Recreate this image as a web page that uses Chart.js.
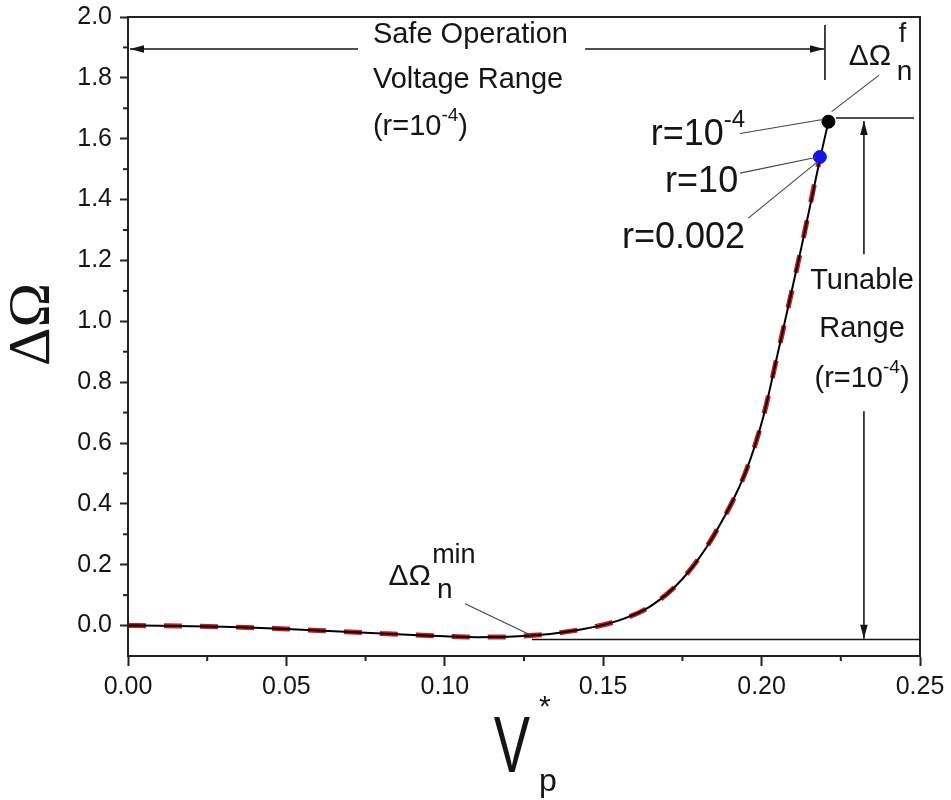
<!DOCTYPE html>
<html><head><meta charset="utf-8">
<script src="https://cdn.jsdelivr.net/npm/chart.js@4.4.1/dist/chart.umd.min.js"></script>
<style>html,body{margin:0;padding:0;background:#fff}#wrap{width:951px;height:800px;position:relative}</style>
</head><body><div id="wrap"><canvas id="c"></canvas></div>
<script>
// ---- data ----
const vpR002 = [0,0.01,0.02,0.03,0.04,0.05,0.06,0.07,0.08,0.09,0.10,0.11,0.12,0.127,0.135,0.145,0.155,0.165,0.175,0.185,0.195,0.2005,0.205,0.2125,0.2184];
const dOmegaR002 = [0,-0.0005,-0.002,-0.004,-0.007,-0.011,-0.016,-0.021,-0.026,-0.031,-0.035,-0.038,-0.037,-0.033,-0.025,-0.009,0.017,0.064,0.153,0.298,0.506,0.685,0.890,1.240,1.540];
const vpR4 = [0,0.01,0.02,0.03,0.04,0.05,0.06,0.07,0.08,0.09,0.10,0.11,0.12,0.127,0.135,0.145,0.155,0.165,0.175,0.185,0.195,0.2005,0.205,0.2125,0.2184,0.2211];
const dOmegaR4 = [0,-0.0005,-0.002,-0.004,-0.007,-0.011,-0.016,-0.021,-0.026,-0.031,-0.035,-0.038,-0.037,-0.033,-0.025,-0.009,0.017,0.064,0.153,0.298,0.506,0.685,0.890,1.240,1.532,1.656];
const endPointR4 = [0.2211, 1.656];
const endPointR10 = [0.2184, 1.540];
const xTicks = [0,0.05,0.10,0.15,0.20,0.25];
const xMinor = [0.025,0.075,0.125,0.175,0.225];
const yTicks = [0,0.2,0.4,0.6,0.8,1.0,1.2,1.4,1.6,1.8,2.0];
const yMinor = [0.1,0.3,0.5,0.7,0.9,1.1,1.3,1.5,1.7,1.9];

const FF = "'Liberation Sans', Arial, Helvetica, sans-serif";
const INK = '#151515';

// annotation anchors in data units
const ann = {
  safe: {y:1.895, x0:0, gapL:0.0726, gapR:0.1443, x1:0.2197, barX:0.2200, barY0:1.974, barY1:1.793,
         tx:0.0773, b1:1.914, b2:1.766, b3:1.612},
  tun: {x:0.2323, upTip:1.658, upTail:1.220, dnTail:0.704, dnTip:-0.043,
        botY:-0.046, botX0:0.1275, botX1:0.25, topY:1.668, topX0:0.2235, topX1:0.2481,
        tx:0.2317, b1:1.105, b2:0.947, b3:0.783},
  r4:{x:0.1948,y:1.579, l:[0.1932,1.617,0.2193,1.663]},
  r10:{x:0.1926,y:1.424, l:[0.1932,1.487,0.2174,1.539]},
  r002:{x:0.1948,y:1.240, l:[0.1958,1.339,0.2176,1.524]},
  f:{x:0.2275,y:1.842, sx:0.2427, supY:1.918, subY:1.793, l:[0.2221,1.689,0.2371,1.809]},
  mn:{x:0.0822,y:0.132, supX:0.0960, supY:0.204, subX:0.0975, subY:0.089, l:[0.1064,0.072,0.1274,-0.033]}
};

function rich(ctx, parts, x, y, align){
  let w = 0;
  parts.forEach(p=>{ctx.font = p[1]+'px '+FF; w += ctx.measureText(p[0]).width;});
  let cx = align==='right' ? x-w : (align==='center' ? x-w/2 : x);
  parts.forEach(p=>{ctx.font = p[1]+'px '+FF; ctx.textAlign='left'; ctx.fillText(p[0], cx, y+(p[2]||0)); cx += ctx.measureText(p[0]).width;});
}
function seg(ctx,x1,y1,x2,y2,w,c){ctx.save();ctx.strokeStyle=c;ctx.lineWidth=w;ctx.beginPath();ctx.moveTo(x1,y1);ctx.lineTo(x2,y2);ctx.stroke();ctx.restore();}
function head(ctx,tx,ty,dx,dy){
  const L=14,H=3.8; const px=-dy, py=dx;
  ctx.save();ctx.fillStyle=INK;ctx.beginPath();
  ctx.moveTo(tx,ty);
  ctx.lineTo(tx-dx*L+px*H, ty-dy*L+py*H);
  ctx.lineTo(tx-dx*L-px*H, ty-dy*L-py*H);
  ctx.closePath();ctx.fill();ctx.restore();
}

const annotPlugin = {
  id:'annot',
  afterDraw(chart){
    const ctx = chart.ctx, xs = chart.scales.x, ys = chart.scales.y, ca = chart.chartArea;
    const X = v=>xs.getPixelForValue(v), Y = v=>ys.getPixelForValue(v);
    ctx.save();
    ctx.strokeStyle = '#222'; ctx.lineWidth = 2;
    ctx.strokeRect(ca.left, ca.top, ca.right-ca.left, ca.bottom-ca.top);
    xMinor.forEach(v=>seg(ctx,X(v),ca.bottom,X(v),ca.bottom+5,2,'#222'));
    yMinor.forEach(v=>seg(ctx,ca.left,Y(v),ca.left-5,Y(v),2,'#222'));

    ctx.fillStyle = INK; ctx.textBaseline='alphabetic';
    const s = ann.safe;
    seg(ctx,X(s.x0)+2,Y(s.y),X(s.gapL),Y(s.y),1.6,INK);
    seg(ctx,X(s.gapR),Y(s.y),X(s.x1),Y(s.y),1.6,INK);
    head(ctx,X(s.x0)+2,Y(s.y),-1,0);
    head(ctx,X(s.x1),Y(s.y),1,0);
    seg(ctx,X(s.barX),Y(s.barY0),X(s.barX),Y(s.barY1),1.6,INK);
    rich(ctx,[['Safe Operation',29]],X(s.tx),Y(s.b1),'left');
    rich(ctx,[['Voltage Range',29]],X(s.tx),Y(s.b2),'left');
    rich(ctx,[['(r=10',29],['-4',19,-14],[')',29]],X(s.tx),Y(s.b3),'left');

    const t = ann.tun;
    seg(ctx,X(t.x),Y(t.upTip),X(t.x),Y(t.upTail),1.6,INK);
    head(ctx,X(t.x),Y(t.upTip),0,-1);
    seg(ctx,X(t.x),Y(t.dnTail),X(t.x),Y(t.dnTip),1.6,INK);
    head(ctx,X(t.x),Y(t.dnTip),0,1);
    seg(ctx,X(t.botX0),Y(t.botY),X(t.botX1),Y(t.botY),1.6,INK);
    seg(ctx,X(t.topX0),Y(t.topY),X(t.topX1),Y(t.topY),1.6,INK);
    rich(ctx,[['Tunable',29]],X(t.tx),Y(t.b1),'center');
    rich(ctx,[['Range',29]],X(t.tx),Y(t.b2),'center');
    rich(ctx,[['(r=10',29],['-4',19,-14],[')',29]],X(t.tx),Y(t.b3),'center');

    const lead = (l)=>seg(ctx,X(l[0]),Y(l[1]),X(l[2]),Y(l[3]),1.1,'#444');
    rich(ctx,[['r=10',36],['-4',24,-18]],X(ann.r4.x),Y(ann.r4.y),'right'); lead(ann.r4.l);
    rich(ctx,[['r=10',36]],X(ann.r10.x),Y(ann.r10.y),'right'); lead(ann.r10.l);
    rich(ctx,[['r=0.002',36]],X(ann.r002.x),Y(ann.r002.y),'right'); lead(ann.r002.l);

    const f = ann.f;
    rich(ctx,[['\u0394\u03A9',30]],X(f.x),Y(f.y),'left');
    rich(ctx,[['f',27]],X(f.sx)+2,Y(f.supY),'left');
    rich(ctx,[['n',28]],X(f.sx),Y(f.subY),'left');
    lead(f.l);
    const m = ann.mn;
    rich(ctx,[['\u0394\u03A9',30]],X(m.x),Y(m.y),'left');
    rich(ctx,[['min',27]],X(m.supX),Y(m.supY),'left');
    rich(ctx,[['n',28]],X(m.subX),Y(m.subY),'left');
    lead(m.l);

    ctx.save();
    ctx.translate(ca.left-95, (ca.top+ca.bottom)/2 - 12);
    ctx.rotate(-Math.PI/2);
    ctx.font = "60px 'Liberation Serif', 'Times New Roman', serif";
    ctx.textAlign='center'; ctx.textBaseline='middle';
    ctx.fillText('\u0394\u03A9',0,0);
    ctx.restore();

    const cx = (ca.left+ca.right)/2;
    ctx.save();
    ctx.translate(cx-12, 772);
    ctx.scale(0.68,1);
    ctx.font = '80px '+FF; ctx.textAlign='center'; ctx.textBaseline='alphabetic';
    ctx.fillText('V',0,0);
    ctx.restore();
    ctx.font = '30px '+FF; ctx.textAlign='left';
    ctx.fillText('*', cx+15, 716);
    ctx.font = '32px '+FF;
    ctx.fillText('p', cx+15, 791);
    ctx.restore();
  }
};

const toPts = (xs, ys) => xs.map((x,i)=>({x:x, y:ys[i]}));

new Chart(document.getElementById('c'), {
  type:'scatter',
  data:{datasets:[
    {label:'r=1e-4', data:toPts(vpR4,dOmegaR4), showLine:true, borderColor:'#000', borderWidth:2,
     pointRadius:0, cubicInterpolationMode:'monotone', order:2},
    {label:'r=0.002', data:toPts(vpR002,dOmegaR002), showLine:true, borderColor:'#cc1a1a', borderWidth:5,
     borderDash:[18,18], pointRadius:0, cubicInterpolationMode:'monotone', order:3},
    {label:'end r=1e-4', data:[{x:endPointR4[0],y:endPointR4[1]}], pointRadius:6.5, backgroundColor:'#000', borderColor:'#000', order:1},
    {label:'end r=10', data:[{x:endPointR10[0],y:endPointR10[1]}], pointRadius:6.5, backgroundColor:'#1414e6', borderColor:'#1414e6', order:1}
  ]},
  options:{
    responsive:true, maintainAspectRatio:false, animation:false,
    layout:{padding:{left:0,top:17,right:31,bottom:0}},
    plugins:{legend:{display:false}, tooltip:{enabled:false}},
    scales:{
      x:{type:'linear', min:0, max:0.25,
         afterBuildTicks:(sc)=>{sc.ticks = xTicks.map(v=>({value:v}));},
         afterFit:(sc)=>{sc.height = 144;},
         ticks:{callback:(v)=>Number(v).toFixed(2), font:{size:25, family:FF}, color:INK, padding:6, maxRotation:0, autoSkip:false},
         grid:{drawOnChartArea:false, drawTicks:true, tickLength:10, tickWidth:2, tickColor:'#222'},
         border:{display:true, color:'#222', width:2}},
      y:{type:'linear', min:-0.1, max:2.0,
         afterBuildTicks:(sc)=>{sc.ticks = yTicks.map(v=>({value:v}));},
         afterFit:(sc)=>{sc.width = 128;},
         ticks:{callback:(v)=>Number(v).toFixed(1), font:{size:25, family:FF, lineHeight:0.5}, color:INK, padding:8, autoSkip:false},
         grid:{drawOnChartArea:false, drawTicks:true, tickLength:8, tickWidth:2, tickColor:'#222'},
         border:{display:true, color:'#222', width:2}}
    }
  },
  plugins:[annotPlugin]
});
</script>
</body></html>
